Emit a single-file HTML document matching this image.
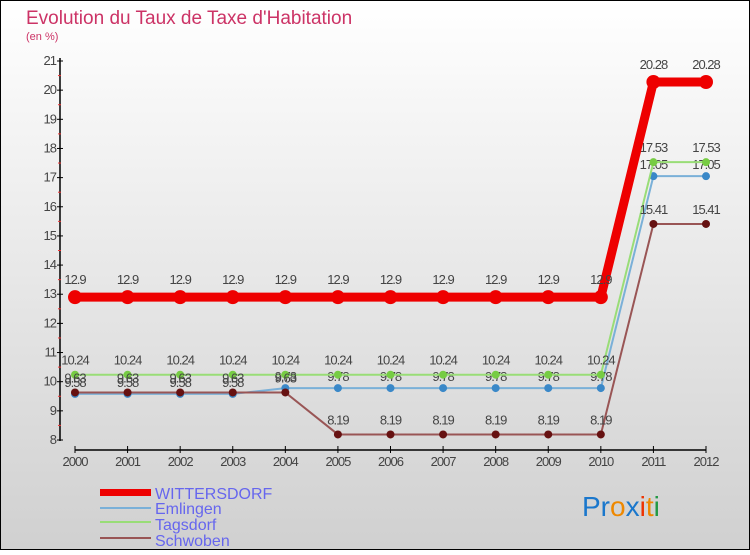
<!DOCTYPE html>
<html><head><meta charset="utf-8"><style>
body{margin:0}
#c{width:750px;height:550px;position:relative;font-family:"Liberation Sans",sans-serif;}
</style></head><body>
<div id="c">
<svg width="750" height="550" xmlns="http://www.w3.org/2000/svg" id="svg">
<defs><linearGradient id="bg" x1="0" y1="0" x2="0" y2="1"><stop offset="0" stop-color="#ffffff"/><stop offset="1" stop-color="#d0d0d0"/></linearGradient></defs>
<rect x="0.5" y="0.5" width="749" height="549" fill="url(#bg)" stroke="#000" stroke-width="1"/>
<text x="26" y="24" font-size="19" fill="#cc3366">Evolution du Taux de Taxe d'Habitation</text>
<text x="26" y="40" font-size="11" fill="#cc3366">(en %)</text>
<g id="axes"></g><g id="series"></g>
<g>
<rect x="100" y="489" width="51" height="7" fill="#ee0000"/>
<text x="155" y="499" font-size="16" fill="#6666ee">WITTERSDORF</text>
<line x1="100" y1="508" x2="151" y2="508" stroke="#7ab0d8" stroke-width="2"/>
<text x="155" y="514" font-size="16" fill="#6666ee">Emlingen</text>
<line x1="100" y1="522" x2="151" y2="522" stroke="#99dd77" stroke-width="2"/>
<text x="155" y="530" font-size="16" fill="#6666ee">Tagsdorf</text>
<line x1="100" y1="538" x2="151" y2="538" stroke="#995555" stroke-width="2"/>
<text x="155" y="546" font-size="16" fill="#6666ee">Schwoben</text>
</g>
<g font-size="28" font-family="'Liberation Sans',sans-serif">
<text x="582" y="516"><tspan fill="#1a77cc">Pr</tspan><tspan fill="#ee8800">o</tspan><tspan fill="#1a77cc">x</tspan><tspan fill="#ee3300">i</tspan><tspan fill="#ee8800">t</tspan><tspan fill="#229944">i</tspan></text>
</g>
</svg>
</div>
<script>
const years=[2000,2001,2002,2003,2004,2005,2006,2007,2008,2009,2010,2011,2012];
const wittersdorf=[12.9,12.9,12.9,12.9,12.9,12.9,12.9,12.9,12.9,12.9,12.9,20.28,20.28];
const emlingen=[9.58,9.58,9.58,9.58,9.78,9.78,9.78,9.78,9.78,9.78,9.78,17.05,17.05];
const tagsdorf=[10.24,10.24,10.24,10.24,10.24,10.24,10.24,10.24,10.24,10.24,10.24,17.53,17.53];
const schwoben=[9.63,9.63,9.63,9.63,9.63,8.19,8.19,8.19,8.19,8.19,8.19,15.41,15.41];
const yTicks=[8,9,10,11,12,13,14,15,16,17,18,19,20,21];
const NS="http://www.w3.org/2000/svg";
function xs(i){return 75+i*(706-75)/(years.length-1);}
function ys(v){return 440-(v-8)*(440-61)/13;}
function mk(t,a,p){const e=document.createElementNS(NS,t);for(const k in a)e.setAttribute(k,a[k]);p.appendChild(e);return e;}
const ax=document.getElementById('axes');
const ya=mk('line',{x1:60,y1:58,x2:60,y2:441,stroke:'#000','stroke-width':1.5},ax);


yTicks.forEach(v=>{
 mk('line',{x1:57,y1:ys(v),x2:63,y2:ys(v),stroke:'#000'},ax);
 if(v<21)mk('line',{x1:58,y1:ys(v+0.5),x2:61,y2:ys(v+0.5),stroke:'#e33'},ax);
 const t=mk('text',{x:56,y:ys(v)+4,'font-size':13,fill:'#444','text-anchor':'end','letter-spacing':'-1'},ax);t.textContent=v;
 
 
});
const xa=mk('line',{x1:75,y1:450,x2:706,y2:450,stroke:'#000','stroke-width':1.5},ax);


years.forEach((y,i)=>{
 mk('line',{x1:xs(i),y1:446,x2:xs(i),y2:453,stroke:'#000'},ax);
 const t=mk('text',{x:xs(i),y:466,'font-size':13,fill:'#444','text-anchor':'middle','letter-spacing':'-1'},ax);t.textContent=y;
 
 
});
const sg=document.getElementById('series');
function draw(vals,name,col,dot,w,r,lblOff){
 const g=mk('g',{},sg);
 
 
 mk('polyline',{points:vals.map((v,i)=>xs(i)+','+ys(v)).join(' '),fill:'none',stroke:col,'stroke-width':w},g);
 vals.forEach((v,i)=>{
  const c=mk('circle',{cx:xs(i),cy:ys(v),r:r,fill:dot},g);
  
  
  const t=mk('text',{x:xs(i),y:ys(v)+lblOff,'font-size':13,fill:'#444','text-anchor':'middle','letter-spacing':'-1'},g);
  t.textContent=String(v);
  
  
 });
}
draw(emlingen,'emlingen','#7ab0d8','#3a88c8',2,4,-7);
draw(tagsdorf,'tagsdorf','#99dd77','#77cc44',2,4,-10);
draw(schwoben,'schwoben','#995555','#661111',2,4,-10);
draw(wittersdorf,'wittersdorf','#ee0000','#ee0000',9,7,-13);
</script>
</body></html>
